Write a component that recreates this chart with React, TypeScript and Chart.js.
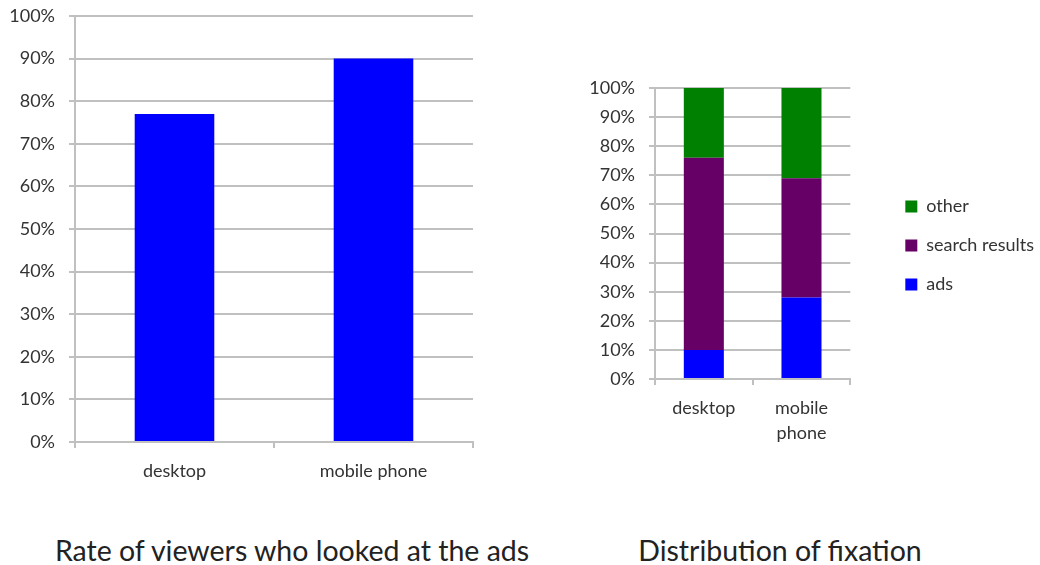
import React, { useEffect, useRef } from "react";
import { Chart, registerables } from "chart.js";

Chart.register(...registerables);

// ---- data ----
const leftCategories = ["desktop", "mobile phone"];
const lookedAtAds = [77, 90];

const rightCategories = [["desktop"], ["mobile", "phone"]];
const adsShare = [10, 28];
const searchShare = [66, 41];
const otherShare = [24, 31];
const seriesNames = ["ads", "search results", "other"];

const leftTitle = "Rate of viewers who looked at the ads";
const rightTitle = "Distribution of fixation";

const percentStep = 10;

const GRID = "#c0c0c0";
const TEXT = "#333333";
const FONT = "Lato";

export default function App() {
  const leftRef = useRef<HTMLCanvasElement>(null);
  const rightRef = useRef<HTMLCanvasElement>(null);

  useEffect(() => {
    const tickFont = { family: FONT, size: 18 };
    const catFont = { family: FONT, size: 18, lineHeight: 1.39 };
    const pct = (v: any) => v + "%";

    const yScale = (width: number) => ({
      min: 0,
      max: 100,
      ticks: { stepSize: percentStep, callback: pct, font: tickFont, color: TEXT, padding: 14 },
      grid: { color: GRID, lineWidth: 2, tickLength: 6 },
      border: { color: GRID, width: 2 },
      afterFit: (s: any) => {
        s.width = width;
        s.paddingTop = 0;
        s.paddingBottom = 0;
      },
    });
    const xScale = (height: number) => ({
      grid: { display: true, drawOnChartArea: false, drawTicks: true, tickLength: 6, color: GRID, lineWidth: 2, offset: true },
      border: { color: GRID, width: 2 },
      ticks: { font: catFont, color: TEXT, padding: 11, maxRotation: 0, autoSkip: false },
      afterFit: (s: any) => {
        s.height = height;
        s.paddingLeft = 0;
        s.paddingRight = 0;
      },
    });

    const left = new Chart(leftRef.current!, {
      type: "bar",
      data: {
        labels: leftCategories,
        datasets: [
          {
            label: "looked at the ads",
            data: lookedAtAds,
            backgroundColor: "#0000ff",
            borderWidth: 0,
            barPercentage: 0.4,
            categoryPercentage: 1,
          },
        ],
      },
      options: {
        responsive: false,
        animation: false,
        layout: { padding: { top: 16, right: 7, left: 0, bottom: 0 } },
        plugins: { legend: { display: false }, tooltip: { enabled: false }, title: { display: false } },
        scales: { x: xScale(58) as any, y: yScale(75) as any },
      },
    });

    // legend width depends on the longest label
    const m = document.createElement("canvas").getContext("2d")!;
    m.font = `18px ${FONT}`;
    const tw = Math.max(...seriesNames.map((t) => m.measureText(t).width));
    const rc = rightRef.current!;
    const rw = Math.round(346 + tw);
    rc.width = rw;
    rc.style.width = rw + "px";

    const right = new Chart(rc, {
      type: "bar",
      data: {
        labels: rightCategories as any,
        datasets: [
          { label: seriesNames[0], data: adsShare, backgroundColor: "#0000ff", borderWidth: 0, barPercentage: 0.41, categoryPercentage: 1 },
          { label: seriesNames[1], data: searchShare, backgroundColor: "#660066", borderWidth: 0, barPercentage: 0.41, categoryPercentage: 1 },
          { label: seriesNames[2], data: otherShare, backgroundColor: "#008000", borderWidth: 0, barPercentage: 0.41, categoryPercentage: 1 },
        ],
      },
      options: {
        responsive: false,
        animation: false,
        layout: { padding: { top: 28, right: 0, left: 0, bottom: 0 } },
        plugins: {
          tooltip: { enabled: false },
          legend: {
            display: true,
            position: "right",
            fullSize: false,
            reverse: true,
            maxWidth: 400,
            title: { display: true, text: "", padding: 0, font: { family: FONT, size: 24, lineHeight: 1 } },
            labels: { boxWidth: 12, boxHeight: 12, padding: 21, font: tickFont, color: TEXT },
          },
        },
        scales: {
          x: { ...(xScale(72) as any), stacked: true },
          y: { ...(yScale(65) as any), stacked: true },
          gap: {
            type: "linear",
            position: "right",
            display: true,
            grid: { display: false },
            border: { display: false },
            ticks: { display: false },
            afterFit: (s: any) => {
              s.width = 34;
            },
          } as any,
        },
      },
    });

    return () => {
      left.destroy();
      right.destroy();
    };
  }, []);

  const titleStyle: React.CSSProperties = {
    position: "absolute",
    top: 535,
    textAlign: "center",
    fontFamily: FONT,
    fontSize: 28.5,
    lineHeight: "31px",
    color: "#222",
    whiteSpace: "nowrap",
  };

  return (
    <div
      style={{
        position: "absolute",
        left: 0,
        top: 0,
        width: 1040,
        height: 565,
        overflow: "hidden",
        background: "#ffffff",
      }}
    >
      <canvas
        ref={leftRef}
        width={480}
        height={500}
        style={{ position: "absolute", left: 0, top: 0, width: 480, height: 500 }}
      />
      <canvas
        ref={rightRef}
        width={450}
        height={391}
        style={{ position: "absolute", left: 590, top: 60, width: 450, height: 391 }}
      />
      <div style={{ ...titleStyle, left: 0, width: 584 }}>{leftTitle}</div>
      <div style={{ ...titleStyle, left: 580, width: 400 }}>{rightTitle}</div>
    </div>
  );
}
